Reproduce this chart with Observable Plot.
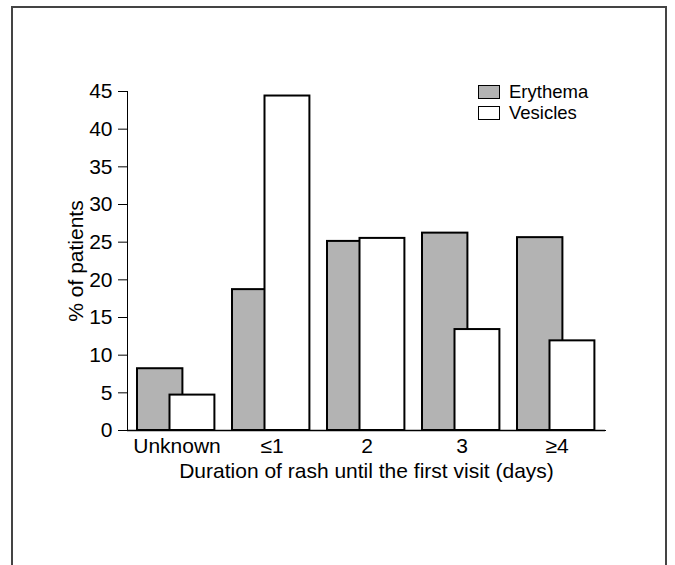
<!DOCTYPE html>
<html>
<head>
<meta charset="utf-8">
<script src="https://cdn.jsdelivr.net/npm/d3@7"></script>
<script src="https://cdn.jsdelivr.net/npm/@observablehq/plot@0.6"></script>
<style>
  html, body { margin: 0; padding: 0; background: #fff; }
  #wrap { position: relative; width: 675px; height: 565px; overflow: hidden; font-family: "Liberation Sans", Arial, sans-serif; }
  #border { position: absolute; left: 11px; top: 6px; width: 656px; height: 600px; border: 2px solid #444; border-bottom: none; box-sizing: border-box; }
  #chart { position: absolute; left: 0; top: 0; }
  #legend { position: absolute; left: 478px; top: 81px; font-size: 18.5px; line-height: 21px; color: #000; }
  .item { display: flex; align-items: center; height: 21px; }
  .sw { width: 22px; height: 14px; border: 1.5px solid #000; box-sizing: border-box; margin-right: 9px; flex: none; }
</style>
</head>
<body>
<div id="wrap">
  <div id="border"></div>
  <div id="chart"></div>
  <div id="legend"></div>
</div>
<script>
const categories = ["Unknown", "≤1", "2", "3", "≥4"];
const erythema = [8.2, 18.7, 25.1, 26.2, 25.6];
const vesicles = [4.7, 44.4, 25.5, 13.4, 11.9];
const seriesNames = ["Erythema", "Vesicles"];
const seriesColors = ["#b3b3b3", "#ffffff"];
const yTicks = [0, 5, 10, 15, 20, 25, 30, 35, 40, 45];

const data = categories.map((c, i) => ({cat: c, ery: erythema[i], ves: vesicles[i]}));

const plot = Plot.plot({
  width: 675,
  height: 565,
  marginLeft: 127,
  marginRight: 70,
  marginTop: 91,
  marginBottom: 135,
  style: {fontFamily: "'Liberation Sans', Arial, sans-serif", fontSize: "21px", color: "#000", background: "transparent"},
  x: {
    type: "band",
    domain: categories,
    padding: 0,
    tickSize: 0,
    tickPadding: 8,
    line: true,
    label: "Duration of rash until the first visit (days)",
    labelAnchor: "center",
    labelOffset: 47,
    labelArrow: "none"
  },
  y: {
    domain: [0, 45],
    ticks: yTicks,
    tickSize: 9,
    tickPadding: 6,
    line: true,
    label: "% of patients",
    labelAnchor: "center",
    labelOffset: 59,
    labelArrow: "none"
  },
  marks: [
    Plot.barY(data, {x: "cat", y: "ery", fill: seriesColors[0], stroke: "#000", strokeWidth: 2, insetLeft: 8, insetRight: 41.6}),
    Plot.barY(data, {x: "cat", y: "ves", fill: seriesColors[1], stroke: "#000", strokeWidth: 2, insetLeft: 40.5, insetRight: 9.6}),
    Plot.ruleY([0], {stroke: "#000", strokeWidth: 1.5})
  ]
});
document.getElementById("chart").appendChild(plot);

const legend = document.getElementById("legend");
seriesNames.forEach((name, i) => {
  const item = document.createElement("div");
  item.className = "item";
  const sw = document.createElement("div");
  sw.className = "sw";
  sw.style.background = seriesColors[i];
  const t = document.createElement("span");
  t.textContent = name;
  item.appendChild(sw);
  item.appendChild(t);
  legend.appendChild(item);
});
</script>
</body>
</html>
